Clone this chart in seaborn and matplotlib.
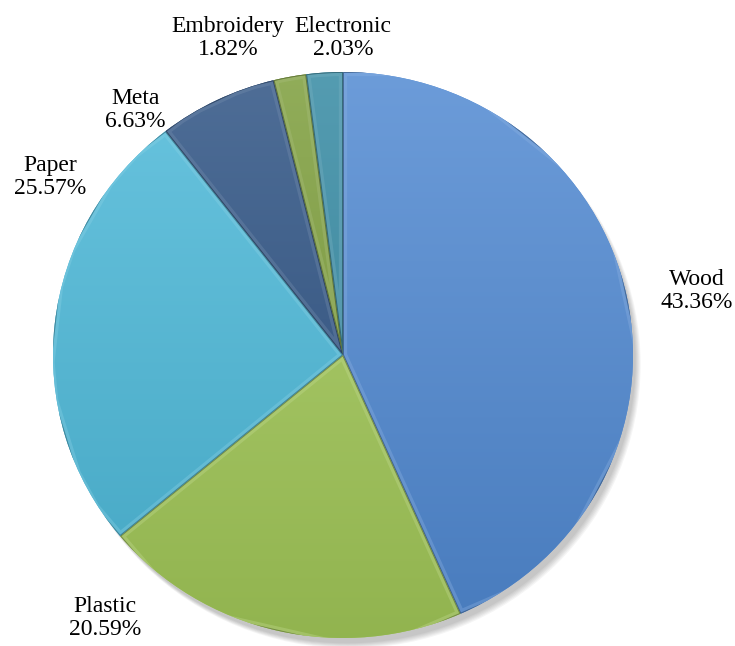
import numpy as np
import matplotlib
matplotlib.use("Agg")
import matplotlib.pyplot as plt
import seaborn as sns
from matplotlib.colors import to_rgb
from matplotlib.patches import Ellipse

# Share of toy materials (percent), clockwise from 12 o'clock
materials = ["Wood", "Plastic", "Paper", "Meta", "Embroidery", "Electronic"]
shares = [43.36, 20.59, 25.57, 6.63, 1.82, 2.03]
base_colors = ["#5089D2", "#A2C858", "#4CB9D9", "#2D5283", "#7C9D3A", "#3489A2"]

# label centres in axes data units (pie spans -1..1)
label_pos = [(1.22, 0.226), (-0.82, -0.93), (-1.01, 0.63),
             (-0.717, 0.866), (-0.397, 1.12), (0.0, 1.12)]

sns.set_theme(style="white")
plt.rcParams["font.family"] = ["Liberation Serif", "DejaVu Serif"]

fig = plt.figure(figsize=(7.35, 6.46), dpi=100)
fig.patch.set_facecolor("white")
ax = fig.add_axes([53 / 735, 8 / 646, 580 / 735, 566 / 646])

palette = sns.color_palette(base_colors)
wedges, _ = ax.pie(shares, startangle=90, counterclock=False,
                   colors=palette, radius=1.0,
                   wedgeprops=dict(linewidth=0, zorder=2))
ax.set_aspect("auto")
ax.set_xlim(-1, 1)
ax.set_ylim(-1, 1)
ax.axis("off")

# soft drop shadow toward the lower right
for k in range(6):
    grow = 0.003 * k
    ax.add_patch(Ellipse((0.014 + 0.002 * k, -0.024 - 0.002 * k),
                         1.99 + grow, 1.99 + grow,
                         facecolor="black", edgecolor="none",
                         alpha=0.04, zorder=0, clip_on=False))

# vertical light-to-dark gradient inside each wedge
t = np.linspace(0, 1, 256)  # 0 bottom, 1 top
for w, col in zip(wedges, palette):
    c = np.array(to_rgb(col))
    top = c + (1 - c) * 0.16
    bottom = c * 0.90
    img = np.zeros((256, 1, 3))
    for i in range(3):
        img[:, 0, i] = bottom[i] + (top[i] - bottom[i]) * t
    im = ax.imshow(img, extent=(-1, 1, -1, 1), origin="lower",
                   aspect="auto", zorder=3, interpolation="bilinear")
    im.set_clip_path(w)

    # bevel: light rim just inside the wedge boundary
    rim = plt.Polygon(w.get_path().vertices, closed=True, fill=False,
                      edgecolor=tuple(c + (1 - c) * 0.35), linewidth=6,
                      alpha=0.35, zorder=4, transform=w.get_transform())
    ax.add_patch(rim)
    rim.set_clip_path(w)
    edge = plt.Polygon(w.get_path().vertices, closed=True, fill=False,
                       edgecolor=tuple(c * 0.5), linewidth=1.4,
                       alpha=0.6, zorder=5, transform=w.get_transform())
    ax.add_patch(edge)
    edge.set_clip_path(w)

for name, share, (x, y) in zip(materials, shares, label_pos):
    ax.text(x, y, f"{name}\n{share:.2f}%", ha="center", va="center",
            fontsize=17, color="black", linespacing=1.1, clip_on=False,
            zorder=6)

fig.savefig("out.png", dpi=100, facecolor="white")
